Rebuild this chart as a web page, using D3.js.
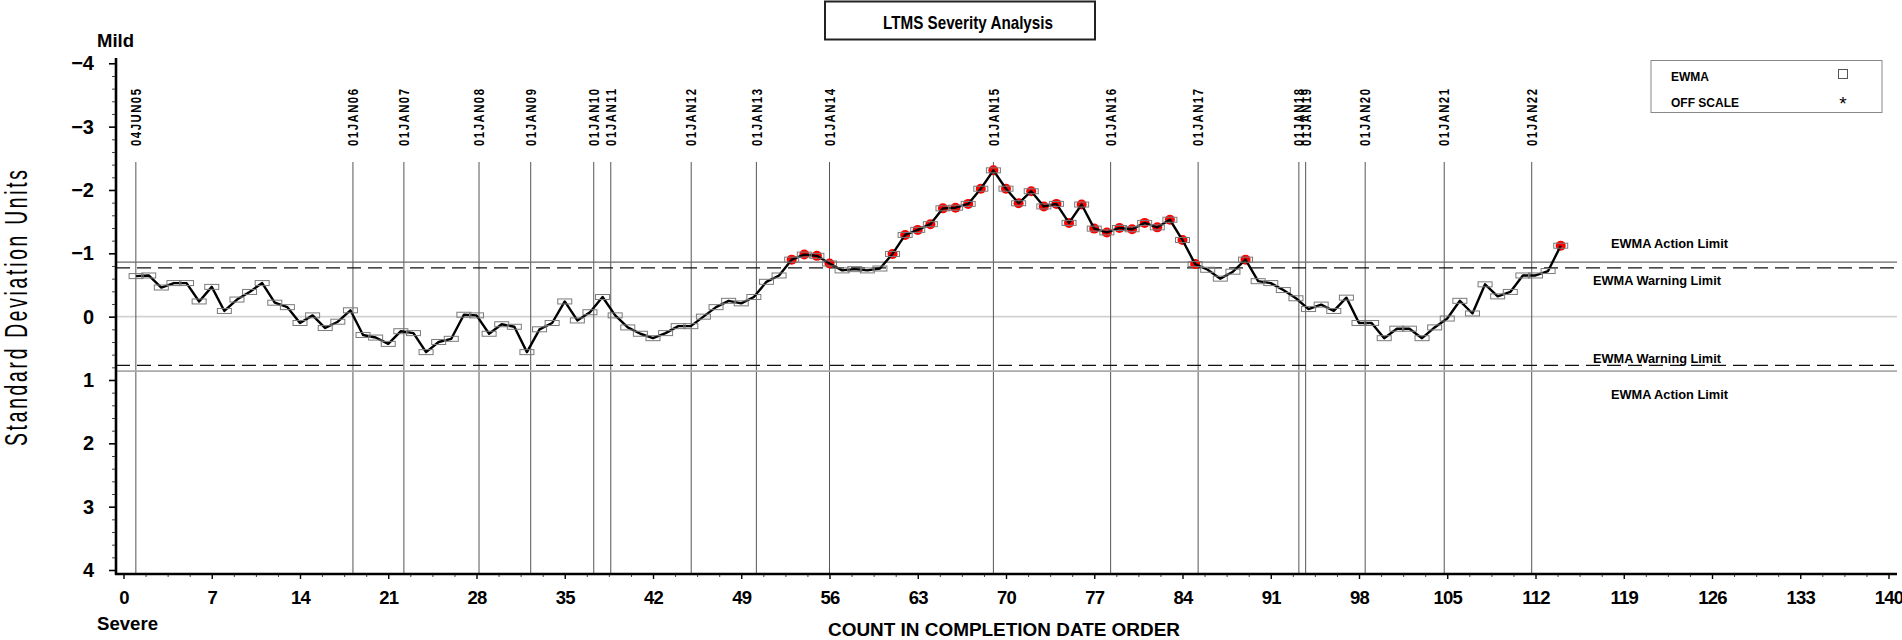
<!DOCTYPE html>
<html><head><meta charset="utf-8">
<script src="https://cdn.jsdelivr.net/npm/d3@7"></script>
<style>
body{margin:0;background:#fff}
svg{display:block}
text{font-family:"Liberation Sans",Arial,Helvetica,sans-serif;fill:#000}
</style>
</head><body>
<svg id="chart" width="1902" height="640"></svg>
<script>
// ---------------- data ----------------
const ewmaValues = [
 -0.64,-0.65,-0.46,-0.53,-0.53,-0.24,-0.47,-0.09,-0.27,-0.39,
 -0.53,-0.22,-0.15, 0.10,-0.02, 0.18, 0.08,-0.10, 0.29, 0.33,
  0.43, 0.23, 0.26, 0.56, 0.40, 0.35,-0.03,-0.02, 0.27, 0.12,
  0.16, 0.56, 0.20, 0.10,-0.24, 0.06,-0.07,-0.31,-0.02, 0.17,
  0.27, 0.34, 0.26, 0.15, 0.15, 0.00,-0.15,-0.25,-0.21,-0.31,
 -0.55,-0.65,-0.90,-0.98,-0.96,-0.84,-0.73,-0.75,-0.73,-0.76,
 -0.99,-1.29,-1.37,-1.46,-1.71,-1.72,-1.78,-2.02,-2.31,-2.02,
 -1.79,-1.98,-1.74,-1.78,-1.48,-1.77,-1.39,-1.33,-1.40,-1.38,
 -1.48,-1.41,-1.53,-1.21,-0.83,-0.74,-0.60,-0.71,-0.90,-0.56,
 -0.53,-0.42,-0.29,-0.12,-0.19,-0.09,-0.30, 0.10, 0.10, 0.34,
  0.19, 0.19, 0.34, 0.17, 0.03,-0.25,-0.05,-0.51,-0.32,-0.39,
 -0.65,-0.65,-0.72,-1.12
];
const dateLabels = ["04JUN05","01JAN06","01JAN07","01JAN08","01JAN09","01JAN10","01JAN11",
  "01JAN12","01JAN13","01JAN14","01JAN15","01JAN16","01JAN17","01JAN18","01JAN19",
  "01JAN20","01JAN21","01JAN22"];
const datePositions = [0.98,18.2,22.24,28.2,32.3,37.3,38.65,45.03,50.2,56.0,69.0,78.3,
  85.24,93.23,93.77,98.49,104.76,111.7];
const xTickValues = [0,7,14,21,28,35,42,49,56,63,70,77,84,91,98,105,112,119,126,133,140];
const yTickValues = [-4,-3,-2,-1,0,1,2,3,4];
const actionLimits = [-0.86, 0.86];
const warningLimits = [-0.77, 0.77];
const limitLabelText = ["EWMA Action Limit","EWMA Warning Limit","EWMA Warning Limit","EWMA Action Limit"];
const legendLabels = ["EWMA","OFF SCALE"];
const titleText = "LTMS Severity Analysis";
const xTitle = "COUNT IN COMPLETION DATE ORDER";
const yTitle = "Standard Deviation Units";

// ---------------- setup ----------------
const svg = d3.select("#chart");
svg.append("rect").attr("width",1902).attr("height",640).attr("fill","#fff");

const x = d3.scaleLinear().domain([0,140]).range([123.5,1888.5]);
const y = d3.scaleLinear().domain([-4,4]).range([63.3,570]);
const axisX0 = 116, axisY0 = 574, plotRight = 1897;

const points = ewmaValues.map((v,i)=>({n:i+1, v}));

// zero line
svg.append("line").attr("x1",axisX0).attr("x2",plotRight)
  .attr("y1",y(0)).attr("y2",y(0)).attr("stroke","#d2d2d2").attr("stroke-width",1.6);

// date reference lines
const dates = dateLabels.map((d,i)=>({label:d, pos:datePositions[i]}));
svg.append("g").selectAll("line").data(dates).join("line")
  .attr("x1",d=>x(d.pos)).attr("x2",d=>x(d.pos))
  .attr("y1",162).attr("y2",axisY0)
  .attr("stroke","#555").attr("stroke-width",1);
svg.append("g").selectAll("text").data(dates).join("text")
  .attr("transform",d=>`translate(${x(d.pos)+5.2},146) rotate(-90) scale(0.78,1)`)
  .attr("font-size",14.5).attr("font-weight","bold")
  .attr("textLength",73).attr("lengthAdjust","spacing")
  .text(d=>d.label);

// limit lines
svg.append("line").attr("x1",axisX0).attr("x2",plotRight)
  .attr("y1",y(actionLimits[0])).attr("y2",y(actionLimits[0]))
  .attr("stroke","#6a6a6a").attr("stroke-width",1.2);
svg.append("line").attr("x1",axisX0).attr("x2",plotRight)
  .attr("y1",y(actionLimits[1])).attr("y2",y(actionLimits[1]))
  .attr("stroke","#aaa").attr("stroke-width",1.6);
warningLimits.forEach(w=>{
  svg.append("line").attr("x1",axisX0).attr("x2",plotRight)
    .attr("y1",y(w)).attr("y2",y(w))
    .attr("stroke","#111").attr("stroke-width",1.2)
    .attr("stroke-dasharray","14,7");
});

// limit labels
const limitLabelPos = [
  {x:1611, y:y(actionLimits[0])-14},
  {x:1593, y:y(warningLimits[0])+17},
  {x:1593, y:y(warningLimits[1])-2},
  {x:1611, y:y(actionLimits[1])+28}
];
svg.append("g").selectAll("text").data(limitLabelText).join("text")
  .attr("x",(d,i)=>limitLabelPos[i].x).attr("y",(d,i)=>limitLabelPos[i].y)
  .attr("font-size",12.5).attr("font-weight","bold")
  .attr("textLength",d=>d.indexOf("Action")>=0?117:128).attr("lengthAdjust","spacingAndGlyphs")
  .text(d=>d);

// off-limit (red) dots
svg.append("g").selectAll("circle").data(points.filter(p=>p.v<=warningLimits[0] || p.v>=warningLimits[1])).join("circle")
  .attr("cx",d=>x(d.n)).attr("cy",d=>y(d.v)).attr("r",5)
  .attr("fill","#ff0000");

// EWMA line
svg.append("path").datum(points)
  .attr("d",d3.line().x(d=>x(d.n)).y(d=>y(d.v)))
  .attr("fill","none").attr("stroke","#000").attr("stroke-width",2.4)
  .attr("stroke-linejoin","round");

// markers
svg.append("g").selectAll("rect").data(points).join("rect")
  .attr("x",d=>x(d.n)-7).attr("y",d=>y(d.v)-2.5)
  .attr("width",14).attr("height",5)
  .attr("fill","none").attr("stroke","#7a7a7a").attr("stroke-width",1);

// ---------------- axes ----------------
// Y axis
const yMinor = d3.range(-40,41,2).map(v=>v/10).filter(v=>!yTickValues.includes(v));
const yMinorG = svg.append("g").attr("transform",`translate(${axisX0},0)`)
  .call(d3.axisLeft(y).tickValues(yMinor).tickSize(4).tickFormat(""));
yMinorG.select(".domain").remove();
yMinorG.selectAll("line").attr("stroke","#444");
const yMajorG = svg.append("g").attr("transform",`translate(${axisX0},0)`)
  .call(d3.axisLeft(y).tickValues(yTickValues).tickSize(7).tickPadding(15).tickFormat(d3.format("d")));
yMajorG.select(".domain").remove();
yMajorG.selectAll("line").attr("stroke","#000").attr("stroke-width",1.6);
yMajorG.selectAll("text").attr("font-size",20).attr("font-weight","bold")
  .attr("font-family","Liberation Sans, Arial, sans-serif").attr("fill","#000");
svg.append("line").attr("x1",axisX0).attr("x2",axisX0).attr("y1",58).attr("y2",axisY0+1)
  .attr("stroke","#000").attr("stroke-width",2.6);

// X axis
const xMinor = d3.range(0,81).map(i=>i*1.75).filter(v=>v%7!==0);
const xMinorG = svg.append("g").attr("transform",`translate(0,${axisY0})`)
  .call(d3.axisBottom(x).tickValues(xMinor).tickSize(3).tickFormat(""));
xMinorG.select(".domain").remove();
xMinorG.selectAll("line").attr("stroke","#444");
const xMajorG = svg.append("g").attr("transform",`translate(0,${axisY0})`)
  .call(d3.axisBottom(x).tickValues(xTickValues).tickSize(5).tickFormat(d3.format("d")));
xMajorG.select(".domain").remove();
xMajorG.selectAll("line").attr("stroke","#000").attr("stroke-width",1.4);
xMajorG.selectAll("text").attr("y",29.5).attr("dy",0)
  .attr("font-size",18.5).attr("font-weight","bold").attr("letter-spacing",-0.8)
  .attr("font-family","Liberation Sans, Arial, sans-serif").attr("fill","#000");
svg.append("line").attr("x1",axisX0-1).attr("x2",plotRight).attr("y1",axisY0).attr("y2",axisY0)
  .attr("stroke","#000").attr("stroke-width",2.6);

// axis titles
svg.append("text").attr("x",1004).attr("y",636).attr("text-anchor","middle")
  .attr("font-size",17.5).attr("font-weight","bold")
  .attr("textLength",352).attr("lengthAdjust","spacingAndGlyphs").text(xTitle);
svg.append("text").attr("transform","translate(27,308) rotate(-90) scale(0.62,1)")
  .attr("text-anchor","middle").attr("font-size",31)
  .attr("textLength",445).attr("lengthAdjust","spacing").text(yTitle);
svg.append("text").attr("x",97).attr("y",47).attr("font-size",18.5).attr("font-weight","bold")
  .attr("textLength",37).attr("lengthAdjust","spacingAndGlyphs").text("Mild");
svg.append("text").attr("x",97).attr("y",630).attr("font-size",18.5).attr("font-weight","bold")
  .attr("textLength",61).attr("lengthAdjust","spacingAndGlyphs").text("Severe");

// title box
svg.append("rect").attr("x",825).attr("y",1.5).attr("width",270).attr("height",38)
  .attr("fill","#fff").attr("stroke","#222").attr("stroke-width",2);
svg.append("text").attr("x",968).attr("y",29).attr("text-anchor","middle")
  .attr("font-size",18.5).attr("font-weight","bold")
  .attr("textLength",170).attr("lengthAdjust","spacingAndGlyphs").text(titleText);

// legend
svg.append("rect").attr("x",1651).attr("y",60.5).attr("width",231).attr("height",52)
  .attr("fill","#fff").attr("stroke","#888").attr("stroke-width",1);
svg.append("g").selectAll("text").data(legendLabels).join("text")
  .attr("x",1671).attr("y",(d,i)=>81+i*26)
  .attr("font-size",12).attr("font-weight","bold").text(d=>d);
svg.append("rect").attr("x",1838.5).attr("y",69.5).attr("width",9).attr("height",9)
  .attr("fill","#fff").attr("stroke","#555").attr("stroke-width",1);
svg.append("text").attr("x",1843).attr("y",110).attr("text-anchor","middle")
  .attr("font-size",19).attr("fill","#333").text("*");
</script>
</body></html>
